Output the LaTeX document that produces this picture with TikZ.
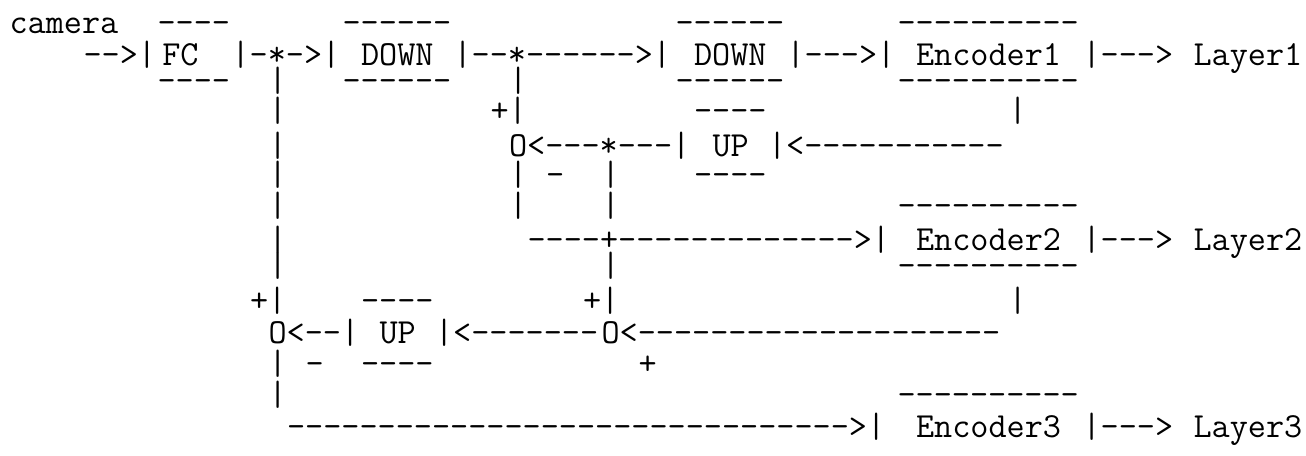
\documentclass[tikz,border=0pt]{standalone}
\usepackage{tikz}
\tikzset{ascii/.style={font=\ttfamily\fontsize{26.4}{30}\selectfont, anchor=base west, inner sep=0pt}}

\begin{document}
\begin{tikzpicture}[x=0.75pt,y=0.75pt,yscale=-1,xscale=1]
    \useasboundingbox (0,0) rectangle (1306,455);

    %Row 1
    % Text Node
    \draw (9.25,33) node [ascii] (camera) {camera};
    % Text Node
    \draw (157.25,33) node [ascii] (fctop) {----};
    % Text Node
    \draw (342.25,33) node [ascii] (downatop) {------};
    % Text Node
    \draw (675.25,33) node [ascii] (downbtop) {------};
    % Text Node
    \draw (897.25,33) node [ascii] (encatop) {----------};

    %Row 2
    % Text Node
    \draw (83.25,65) node [ascii] (arrin) {-->|};
    % Text Node
    \draw (162,65) node [ascii] (fc) {FC};
    % Text Node
    \draw (231.25,65) node [ascii] (fcout) {|-*->|};
    % Text Node
    \draw (360.75,65) node [ascii] (downa) {DOWN};
    % Text Node
    \draw (453.25,65) node [ascii] (downaout) {|--*------>|};
    % Text Node
    \draw (693.75,65) node [ascii] (downb) {DOWN};
    % Text Node
    \draw (786.25,65) node [ascii] (downbout) {|--->|};
    % Text Node
    \draw (915.75,65) node [ascii] (enca) {Encoder1};
    % Text Node
    \draw (1082.25,65) node [ascii] (encaout) {|--->};
    % Text Node
    \draw (1193.25,65) node [ascii] (layera) {Layer1};

    %Row 3
    % Text Node
    \draw (157.25,91) node [ascii] (fcbot) {----};
    % Text Node
    \draw (268.25,91) node [ascii] (barl3) {|};
    % Text Node
    \draw (342.25,91) node [ascii] (downabot) {------};
    % Text Node
    \draw (508.75,91) node [ascii] (barm3) {|};
    % Text Node
    \draw (675.25,91) node [ascii] (downbbot) {------};
    % Text Node
    \draw (897.25,91) node [ascii] (encabot) {----------};

    %Row 4
    % Text Node
    \draw (268.25,121) node [ascii] (barl4) {|};
    % Text Node
    \draw (490.25,121) node [ascii] (plusa) {+|};
    % Text Node
    \draw (693.75,121) node [ascii] (upatop) {----};
    % Text Node
    \draw (1008.25,121) node [ascii] (barr4) {|};

    %Row 5
    % Text Node
    \draw (268.25,156) node [ascii] (barl5) {|};
    % Text Node
    \draw (508.75,156) node [ascii] (suma) {O<---*---|};
    % Text Node
    \draw (712.25,156) node [ascii] (upa) {UP};
    % Text Node
    \draw (767.75,156) node [ascii] (upain) {|<-----------};

    %Row 6
    % Text Node
    \draw (268.25,185) node [ascii] (barl6) {|};
    % Text Node
    \draw (508.75,185) node [ascii] (barm6) {|};
    % Text Node
    \draw (545.75,185) node [ascii] (minusa) {-};
    % Text Node
    \draw (601.25,185) node [ascii] (barn6) {|};
    % Text Node
    \draw (693.75,185) node [ascii] (upabot) {----};

    %Row 7
    % Text Node
    \draw (268.25,216) node [ascii] (barl7) {|};
    % Text Node
    \draw (508.75,216) node [ascii] (barm7) {|};
    % Text Node
    \draw (601.25,216) node [ascii] (barn7) {|};
    % Text Node
    \draw (897.25,216) node [ascii] (encbtop) {----------};

    %Row 8
    % Text Node
    \draw (268.25,250) node [ascii] (barl8) {|};
    % Text Node
    \draw (527.25,250) node [ascii] (encbin) {----+------------->|};
    % Text Node
    \draw (915.75,250) node [ascii] (encb) {Encoder2};
    % Text Node
    \draw (1082.25,250) node [ascii] (encbout) {|--->};
    % Text Node
    \draw (1193.25,250) node [ascii] (layerb) {Layer2};

    %Row 9
    % Text Node
    \draw (268.25,276) node [ascii] (barl9) {|};
    % Text Node
    \draw (601.25,276) node [ascii] (barn9) {|};
    % Text Node
    \draw (897.25,276) node [ascii] (encbbot) {----------};

    %Row 10
    % Text Node
    \draw (249.75,311) node [ascii] (plusb) {+|};
    % Text Node
    \draw (360.75,311) node [ascii] (upbtop) {----};
    % Text Node
    \draw (582.75,311) node [ascii] (plusc) {+|};
    % Text Node
    \draw (1008.25,311) node [ascii] (barr10) {|};

    %Row 11
    % Text Node
    \draw (268.25,343) node [ascii] (sumb) {O<--|};
    % Text Node
    \draw (379.25,343) node [ascii] (upb) {UP};
    % Text Node
    \draw (434.75,343) node [ascii] (upbin) {|<-------};
    % Text Node
    \draw (601.25,343) node [ascii] (sumc) {O<--------------------};

    %Row 12
    % Text Node
    \draw (268.25,374) node [ascii] (barl12) {|};
    % Text Node
    \draw (305.25,374) node [ascii] (minusb) {-};
    % Text Node
    \draw (360.75,374) node [ascii] (upbbot) {----};
    % Text Node
    \draw (638.25,374) node [ascii] (plusd) {+};

    %Row 13
    % Text Node
    \draw (268.25,405) node [ascii] (barl13) {|};
    % Text Node
    \draw (897.25,405) node [ascii] (encctop) {----------};

    %Row 14
    % Text Node
    \draw (286.75,437) node [ascii] (enccin) {------------------------------->|};
    % Text Node
    \draw (915.75,437) node [ascii] (encc) {Encoder3};
    % Text Node
    \draw (1082.25,437) node [ascii] (enccout) {|--->};
    % Text Node
    \draw (1193.25,437) node [ascii] (layerc) {Layer3};
\end{tikzpicture}
\end{document}
